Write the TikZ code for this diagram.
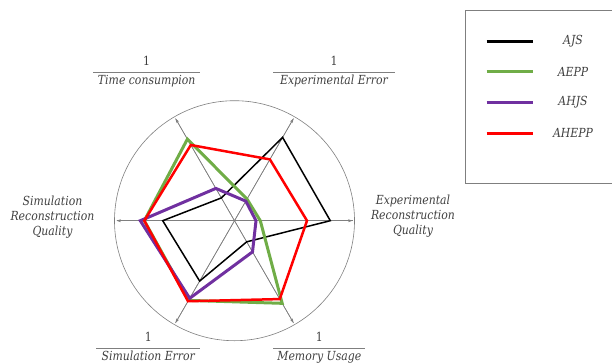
\documentclass[tikz,border=0pt]{standalone}
\usepackage{fontspec}
\setmainfont{DejaVu Serif}
\newfontfamily\labfont[FakeStretch=0.87]{DejaVu Serif}
\usetikzlibrary{arrows.meta}
\definecolor{txtgray}{HTML}{404040}
\definecolor{axgray}{HTML}{7F7F7F}
\definecolor{cgreen}{HTML}{70AD47}
\definecolor{cpurple}{HTML}{7030A0}
\definecolor{cred}{HTML}{FF0000}
\begin{document}
\begin{tikzpicture}[x=1pt,y=-1pt,
  lab/.style={font=\labfont\fontsize{12.5}{15}\selectfont\itshape, text=txtgray, inner sep=0pt, align=center},
  num/.style={font=\labfont\fontsize{12.5}{15}\selectfont, text=txtgray, inner sep=0pt, anchor=base},
  fracline/.style={draw=axgray, line width=0.8pt},
  axis/.style={draw=axgray, line width=0.6pt, -{Stealth[length=4.5pt,width=3pt]}},
  ser/.style={line join=miter, line cap=butt}
]
\clip (0,0) rectangle (612,362);
\useasboundingbox (0,0) rectangle (612,362);

% radar
\begin{scope}[shift={(234.5,220.7)}]
  \coordinate (O) at (0,0);
  \draw[draw=axgray, line width=0.6pt] (O) circle (120pt);
  \foreach \a/\n in {0/ax0,60/ax60,120/ax120,180/ax180,240/ax240,300/ax300}{
    \coordinate (\n) at (\a:118pt);
  }
  \draw[axis] (ax180) -- (ax0);
  \draw[axis] (ax0) -- (ax180);
  \draw[axis] (ax240) -- (ax60);
  \draw[axis] (ax60) -- (ax240);
  \draw[axis] (ax300) -- (ax120);
  \draw[axis] (ax120) -- (ax300);
  % series
  \draw[ser, black, line width=1.5pt] (0:95.8pt) -- (60:96.2pt) -- (120:26.3pt) -- (180:71.8pt) -- (240:69.7pt) -- (300:24.4pt) -- cycle;
  \draw[ser, cgreen, line width=3pt] (0:25.8pt) -- (60:25pt) -- (120:94.2pt) -- (180:90.2pt) -- (240:92pt) -- (300:95.4pt) -- cycle;
  \draw[ser, cpurple, line width=3pt] (0:21.5pt) -- (60:22.6pt) -- (120:37.3pt) -- (180:94.2pt) -- (240:89.6pt) -- (300:36pt) -- cycle;
  \draw[ser, cred, line width=2.5pt] (0:72.5pt) -- (60:70.8pt) -- (120:87.4pt) -- (180:90.2pt) -- (240:93pt) -- (300:90.5pt) -- cycle;
\end{scope}

% axis labels
\node[num] (n120) at (146.7,65.7) {1};
\node[lab, anchor=base] (t120) at (146.7,84.3) {Time consumpion};
\draw[fracline] (93.3,72.3) -- (200,72.3);

\node[num] (n60) at (334,65.7) {1};
\node[lab, anchor=base] (t60) at (334,84.3) {Experimental Error};
\draw[fracline] (273.3,72.3) -- (395,72.3);

\node[num] (n240) at (148.3,341.7) {1};
\node[lab, anchor=base] (t240) at (148.3,360) {Simulation Error};
\draw[fracline] (96,348.3) -- (200,348.3);

\node[num] (n300) at (319.3,341.7) {1};
\node[lab, anchor=base] (t300) at (319.3,360) {Memory Usage};
\draw[fracline] (273.3,348.3) -- (365,348.3);

\node[lab] (t180) at (52.5,217.5) {Simulation\\Reconstruction\\Quality};
\node[lab] (t0) at (413,216) {Experimental\\Reconstruction\\Quality};

% legend
\draw[draw=axgray, line width=0.9pt] (465,10) rectangle (640,183.3);
\foreach \y/\c/\t/\n in {41/black/AJS/l1, 71.7/cgreen/AEPP/l2, 102.3/cpurple/AHJS/l3, 133.3/cred/AHEPP/l4}{
  \coordinate (\n a) at (486.7,\y);
  \coordinate (\n b) at (533.3,\y);
  \draw[\c, line width=3pt] (\n a) -- (\n b);
  \node[lab] (\n t) at (573,\y) {\t};
}
\end{tikzpicture}
\end{document}
